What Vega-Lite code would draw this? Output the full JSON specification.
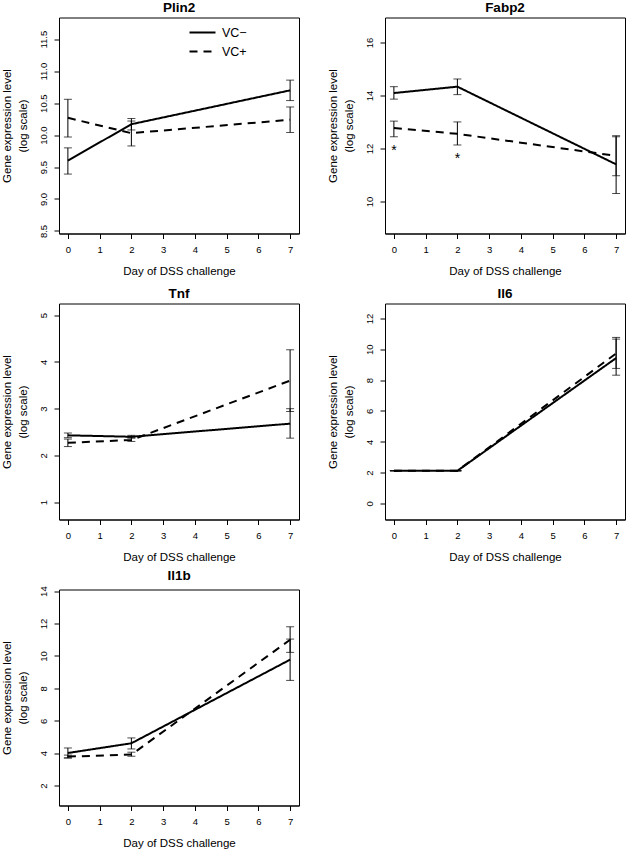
{
  "$schema": "https://vega.github.io/schema/vega-lite/v6.json",
  "padding": {"left": 0, "top": 0.5, "right": 0, "bottom": 0},
  "background": "white",
  "datasets": {
    "expr": [
      {"gene": "Plin2", "grp": "VC−", "day": 0, "m": 9.60, "lo": 9.39, "hi": 9.80},
      {"gene": "Plin2", "grp": "VC−", "day": 2, "m": 10.17, "lo": 10.08, "hi": 10.26},
      {"gene": "Plin2", "grp": "VC−", "day": 7, "m": 10.70, "lo": 10.54, "hi": 10.86},
      {"gene": "Plin2", "grp": "VC+", "day": 0, "m": 10.27, "lo": 9.97, "hi": 10.56},
      {"gene": "Plin2", "grp": "VC+", "day": 2, "m": 10.03, "lo": 9.83, "hi": 10.22},
      {"gene": "Plin2", "grp": "VC+", "day": 7, "m": 10.24, "lo": 10.04, "hi": 10.44},
      {"gene": "Fabp2", "grp": "VC−", "day": 0, "m": 14.09, "lo": 13.86, "hi": 14.33},
      {"gene": "Fabp2", "grp": "VC−", "day": 2, "m": 14.33, "lo": 14.03, "hi": 14.62},
      {"gene": "Fabp2", "grp": "VC−", "day": 7, "m": 11.40, "lo": 10.30, "hi": 12.48},
      {"gene": "Fabp2", "grp": "VC+", "day": 0, "m": 12.77, "lo": 12.44, "hi": 13.03},
      {"gene": "Fabp2", "grp": "VC+", "day": 2, "m": 12.55, "lo": 12.13, "hi": 13.00},
      {"gene": "Fabp2", "grp": "VC+", "day": 7, "m": 11.72, "lo": 10.97, "hi": 12.44},
      {"gene": "Tnf", "grp": "VC−", "day": 0, "m": 2.43, "lo": 2.38, "hi": 2.48},
      {"gene": "Tnf", "grp": "VC−", "day": 2, "m": 2.40, "lo": 2.37, "hi": 2.43},
      {"gene": "Tnf", "grp": "VC−", "day": 7, "m": 2.68, "lo": 2.37, "hi": 3.00},
      {"gene": "Tnf", "grp": "VC+", "day": 0, "m": 2.27, "lo": 2.19, "hi": 2.35},
      {"gene": "Tnf", "grp": "VC+", "day": 2, "m": 2.33, "lo": 2.30, "hi": 2.38},
      {"gene": "Tnf", "grp": "VC+", "day": 7, "m": 3.60, "lo": 2.94, "hi": 4.26},
      {"gene": "Il6", "grp": "VC−", "day": 0, "m": 2.12, "lo": 2.12, "hi": 2.12},
      {"gene": "Il6", "grp": "VC−", "day": 2, "m": 2.12, "lo": 2.12, "hi": 2.12},
      {"gene": "Il6", "grp": "VC−", "day": 7, "m": 9.43, "lo": 8.32, "hi": 10.66},
      {"gene": "Il6", "grp": "VC+", "day": 0, "m": 2.12, "lo": 2.12, "hi": 2.12},
      {"gene": "Il6", "grp": "VC+", "day": 2, "m": 2.12, "lo": 2.12, "hi": 2.12},
      {"gene": "Il6", "grp": "VC+", "day": 7, "m": 9.73, "lo": 8.76, "hi": 10.77},
      {"gene": "Il1b", "grp": "VC−", "day": 0, "m": 4.01, "lo": 3.71, "hi": 4.32},
      {"gene": "Il1b", "grp": "VC−", "day": 2, "m": 4.61, "lo": 4.26, "hi": 4.94},
      {"gene": "Il1b", "grp": "VC−", "day": 7, "m": 9.77, "lo": 8.49, "hi": 11.04},
      {"gene": "Il1b", "grp": "VC+", "day": 0, "m": 3.79, "lo": 3.70, "hi": 3.88},
      {"gene": "Il1b", "grp": "VC+", "day": 2, "m": 3.91, "lo": 3.81, "hi": 4.06},
      {"gene": "Il1b", "grp": "VC+", "day": 7, "m": 11.00, "lo": 10.22, "hi": 11.80}
    ],
    "stars": [
      {"day": 0, "y": 12.0, "label": "*"},
      {"day": 2, "y": 11.7, "label": "*"}
    ]
  },
  "bounds": "flush",
  "columns": 2,
  "spacing": {"row": 70, "column": 86},
  "resolve": {
    "scale": {"x": "independent", "y": "independent", "strokeDash": "independent"},
    "legend": {"strokeDash": "independent"}
  },
  "concat": [
    {
      "width": 240, "height": 216,
      "title": "Plin2",
      "data": {"name": "expr"},
      "transform": [{"filter": "datum.gene === 'Plin2'"}],
      "encoding": {
        "x": {"field": "day", "type": "quantitative", "title": "Day of DSS challenge",
              "scale": {"domain": [-0.28, 7.28], "nice": false, "zero": false},
              "axis": {"values": [0, 1, 2, 3, 4, 5, 6, 7]}}
      },
      "layer": [
        {"mark": {"type": "line", "color": "black", "strokeWidth": 2},
         "encoding": {
           "y": {"field": "m", "type": "quantitative", "title": ["Gene expression level", "(log scale)"],
                 "scale": {"domain": [8.46, 11.84], "nice": false, "zero": false},
                 "axis": {"values": [8.5, 9, 9.5, 10, 10.5, 11, 11.5], "format": ".1f"}},
           "strokeDash": {"field": "grp", "type": "nominal",
             "scale": {"domain": ["VC−", "VC+"], "range": [[1, 0], [8, 6]]},
             "legend": {"orient": "none", "legendX": 136, "legendY": 7.5, "title": null,
                        "symbolType": "M-2,0H2", "symbolSize": 169, "symbolStrokeWidth": 2,
                        "symbolStrokeColor": "black", "symbolFillColor": "transparent",
                        "labelFontSize": 12.5, "labelOffset": 12, "rowPadding": 5, "padding": 0,
                        "labelColor": "black", "labelFont": "Liberation Sans"}}
         }},
        {"mark": {"type": "rule", "color": "black", "strokeWidth": 1},
         "encoding": {"y": {"field": "lo", "type": "quantitative", "title": ["Gene expression level", "(log scale)"],
                            "axis": {"values": [8.5, 9, 9.5, 10, 10.5, 11, 11.5], "format": ".1f"}}, "y2": {"field": "hi"}}},
        {"mark": {"type": "tick", "orient": "horizontal", "color": "black", "size": 8, "thickness": 1},
         "encoding": {"y": {"field": "lo", "type": "quantitative", "title": ["Gene expression level", "(log scale)"],
                            "axis": {"values": [8.5, 9, 9.5, 10, 10.5, 11, 11.5], "format": ".1f"}}}},
        {"mark": {"type": "tick", "orient": "horizontal", "color": "black", "size": 8, "thickness": 1},
         "encoding": {"y": {"field": "hi", "type": "quantitative", "title": ["Gene expression level", "(log scale)"],
                            "axis": {"values": [8.5, 9, 9.5, 10, 10.5, 11, 11.5], "format": ".1f"}}}}
      ]
    },
    {
      "width": 240, "height": 216,
      "title": "Fabp2",
      "layer": [
        {"data": {"name": "expr"},
         "transform": [{"filter": "datum.gene === 'Fabp2'"}],
         "mark": {"type": "line", "color": "black", "strokeWidth": 2},
         "encoding": {
           "x": {"field": "day", "type": "quantitative", "title": "Day of DSS challenge",
                 "scale": {"domain": [-0.28, 7.28], "nice": false, "zero": false},
                 "axis": {"values": [0, 1, 2, 3, 4, 5, 6, 7]}},
           "y": {"field": "m", "type": "quantitative", "title": ["Gene expression level", "(log scale)"],
                 "scale": {"domain": [8.79, 16.94], "nice": false, "zero": false},
                 "axis": {"values": [10, 12, 14, 16]}},
           "strokeDash": {"field": "grp", "type": "nominal",
             "scale": {"domain": ["VC−", "VC+"], "range": [[1, 0], [8, 6]]}, "legend": null}
         }},
        {"data": {"name": "expr"},
         "transform": [{"filter": "datum.gene === 'Fabp2'"}],
         "mark": {"type": "rule", "color": "black", "strokeWidth": 1},
         "encoding": {"x": {"field": "day", "type": "quantitative", "title": "Day of DSS challenge", "axis": {"values": [0, 1, 2, 3, 4, 5, 6, 7]}},
                      "y": {"field": "lo", "type": "quantitative", "title": ["Gene expression level", "(log scale)"], "axis": {"values": [10, 12, 14, 16]}}, "y2": {"field": "hi"}}},
        {"data": {"name": "expr"},
         "transform": [{"filter": "datum.gene === 'Fabp2'"}],
         "mark": {"type": "tick", "orient": "horizontal", "color": "black", "size": 8, "thickness": 1},
         "encoding": {"x": {"field": "day", "type": "quantitative", "title": "Day of DSS challenge", "axis": {"values": [0, 1, 2, 3, 4, 5, 6, 7]}},
                      "y": {"field": "lo", "type": "quantitative", "title": ["Gene expression level", "(log scale)"], "axis": {"values": [10, 12, 14, 16]}}}},
        {"data": {"name": "expr"},
         "transform": [{"filter": "datum.gene === 'Fabp2'"}],
         "mark": {"type": "tick", "orient": "horizontal", "color": "black", "size": 8, "thickness": 1},
         "encoding": {"x": {"field": "day", "type": "quantitative", "title": "Day of DSS challenge", "axis": {"values": [0, 1, 2, 3, 4, 5, 6, 7]}},
                      "y": {"field": "hi", "type": "quantitative", "title": ["Gene expression level", "(log scale)"], "axis": {"values": [10, 12, 14, 16]}}}},
        {"data": {"name": "stars"},
         "mark": {"type": "text", "color": "black", "fontSize": 14, "baseline": "middle", "dy": 3, "font": "Liberation Sans"},
         "encoding": {"x": {"field": "day", "type": "quantitative", "title": "Day of DSS challenge", "axis": {"values": [0, 1, 2, 3, 4, 5, 6, 7]}},
                      "y": {"field": "y", "type": "quantitative", "title": ["Gene expression level", "(log scale)"], "axis": {"values": [10, 12, 14, 16]}},
                      "text": {"field": "label"}}}
      ]
    },
    {
      "width": 240, "height": 216,
      "title": "Tnf",
      "data": {"name": "expr"},
      "transform": [{"filter": "datum.gene === 'Tnf'"}],
      "encoding": {
        "x": {"field": "day", "type": "quantitative", "title": "Day of DSS challenge",
              "scale": {"domain": [-0.28, 7.28], "nice": false, "zero": false},
              "axis": {"values": [0, 1, 2, 3, 4, 5, 6, 7]}}
      },
      "layer": [
        {"mark": {"type": "line", "color": "black", "strokeWidth": 2},
         "encoding": {
           "y": {"field": "m", "type": "quantitative", "title": ["Gene expression level", "(log scale)"],
                 "scale": {"domain": [0.63, 5.25], "nice": false, "zero": false},
                 "axis": {"values": [1, 2, 3, 4, 5]}},
           "strokeDash": {"field": "grp", "type": "nominal",
             "scale": {"domain": ["VC−", "VC+"], "range": [[1, 0], [8, 6]]}, "legend": null}
         }},
        {"mark": {"type": "rule", "color": "black", "strokeWidth": 1},
         "encoding": {"y": {"field": "lo", "type": "quantitative", "title": ["Gene expression level", "(log scale)"], "axis": {"values": [1, 2, 3, 4, 5]}}, "y2": {"field": "hi"}}},
        {"mark": {"type": "tick", "orient": "horizontal", "color": "black", "size": 8, "thickness": 1},
         "encoding": {"y": {"field": "lo", "type": "quantitative", "title": ["Gene expression level", "(log scale)"], "axis": {"values": [1, 2, 3, 4, 5]}}}},
        {"mark": {"type": "tick", "orient": "horizontal", "color": "black", "size": 8, "thickness": 1},
         "encoding": {"y": {"field": "hi", "type": "quantitative", "title": ["Gene expression level", "(log scale)"], "axis": {"values": [1, 2, 3, 4, 5]}}}}
      ]
    },
    {
      "width": 240, "height": 216,
      "title": "Il6",
      "data": {"name": "expr"},
      "transform": [{"filter": "datum.gene === 'Il6'"}],
      "encoding": {
        "x": {"field": "day", "type": "quantitative", "title": "Day of DSS challenge",
              "scale": {"domain": [-0.28, 7.28], "nice": false, "zero": false},
              "axis": {"values": [0, 1, 2, 3, 4, 5, 6, 7]}}
      },
      "layer": [
        {"mark": {"type": "line", "color": "black", "strokeWidth": 2},
         "encoding": {
           "y": {"field": "m", "type": "quantitative", "title": ["Gene expression level", "(log scale)"],
                 "scale": {"domain": [-1.04, 12.97], "nice": false, "zero": false},
                 "axis": {"values": [0, 2, 4, 6, 8, 10, 12]}},
           "strokeDash": {"field": "grp", "type": "nominal",
             "scale": {"domain": ["VC−", "VC+"], "range": [[1, 0], [8, 6]]}, "legend": null}
         }},
        {"mark": {"type": "rule", "color": "black", "strokeWidth": 1},
         "encoding": {"y": {"field": "lo", "type": "quantitative", "title": ["Gene expression level", "(log scale)"], "axis": {"values": [0, 2, 4, 6, 8, 10, 12]}}, "y2": {"field": "hi"}}},
        {"mark": {"type": "tick", "orient": "horizontal", "color": "black", "size": 8, "thickness": 1},
         "encoding": {"y": {"field": "lo", "type": "quantitative", "title": ["Gene expression level", "(log scale)"], "axis": {"values": [0, 2, 4, 6, 8, 10, 12]}}}},
        {"mark": {"type": "tick", "orient": "horizontal", "color": "black", "size": 8, "thickness": 1},
         "encoding": {"y": {"field": "hi", "type": "quantitative", "title": ["Gene expression level", "(log scale)"], "axis": {"values": [0, 2, 4, 6, 8, 10, 12]}}}}
      ]
    },
    {
      "width": 240, "height": 216,
      "title": "Il1b",
      "data": {"name": "expr"},
      "transform": [{"filter": "datum.gene === 'Il1b'"}],
      "encoding": {
        "x": {"field": "day", "type": "quantitative", "title": "Day of DSS challenge",
              "scale": {"domain": [-0.28, 7.28], "nice": false, "zero": false},
              "axis": {"values": [0, 1, 2, 3, 4, 5, 6, 7]}}
      },
      "layer": [
        {"mark": {"type": "line", "color": "black", "strokeWidth": 2},
         "encoding": {
           "y": {"field": "m", "type": "quantitative", "title": ["Gene expression level", "(log scale)"],
                 "scale": {"domain": [0.77, 14.1], "nice": false, "zero": false},
                 "axis": {"values": [2, 4, 6, 8, 10, 12, 14]}},
           "strokeDash": {"field": "grp", "type": "nominal",
             "scale": {"domain": ["VC−", "VC+"], "range": [[1, 0], [8, 6]]}, "legend": null}
         }},
        {"mark": {"type": "rule", "color": "black", "strokeWidth": 1},
         "encoding": {"y": {"field": "lo", "type": "quantitative", "title": ["Gene expression level", "(log scale)"], "axis": {"values": [2, 4, 6, 8, 10, 12, 14]}}, "y2": {"field": "hi"}}},
        {"mark": {"type": "tick", "orient": "horizontal", "color": "black", "size": 8, "thickness": 1},
         "encoding": {"y": {"field": "lo", "type": "quantitative", "title": ["Gene expression level", "(log scale)"], "axis": {"values": [2, 4, 6, 8, 10, 12, 14]}}}},
        {"mark": {"type": "tick", "orient": "horizontal", "color": "black", "size": 8, "thickness": 1},
         "encoding": {"y": {"field": "hi", "type": "quantitative", "title": ["Gene expression level", "(log scale)"], "axis": {"values": [2, 4, 6, 8, 10, 12, 14]}}}}
      ]
    }
  ],
  "config": {
    "font": "Liberation Sans",
    "view": {"stroke": "black", "strokeWidth": 1},
    "axis": {
      "grid": false, "domainColor": "black", "domainWidth": 1, "tickColor": "black", "tickWidth": 1,
      "tickSize": 5, "labelColor": "black", "titleColor": "black", "labelFontSize": 9.5,
      "titleFontSize": 11.5, "titleFontWeight": "normal", "labelFont": "Liberation Sans",
      "titleFont": "Liberation Sans", "labelOverlap": false, "labelFlush": false
    },
    "axisX": {"labelPadding": 6, "titlePadding": 11},
    "axisY": {"labelAngle": 270, "labelAlign": "center", "labelBaseline": "bottom", "labelPadding": 6,
              "titlePadding": 10, "titleLineHeight": 16},
    "title": {"fontSize": 13.5, "fontWeight": "bold", "offset": 3, "anchor": "middle", "color": "black",
              "font": "Liberation Sans"}
  }
}
